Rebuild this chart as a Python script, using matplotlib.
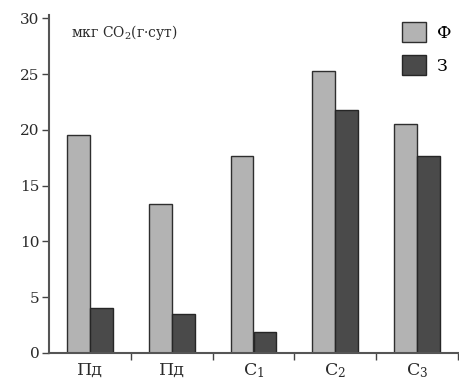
import matplotlib
matplotlib.use("Agg")
import matplotlib.pyplot as plt
import numpy as np

categories = ["Пд", "Пд", "C$_1$", "C$_2$", "C$_3$"]
series_names = ["Ф", "З"]
values_f = [19.5, 13.4, 17.7, 25.3, 20.5]
values_z = [4.0, 3.5, 1.9, 21.8, 17.7]
y_ticks = [0, 5, 10, 15, 20, 25, 30]
unit_label = "мкг CO$_2$(г·сут)"

plt.rcParams['font.family'] = ['DejaVu Serif']
plt.rcParams['mathtext.fontset'] = 'dejavuserif'
plt.rcParams['mathtext.default'] = 'regular'

fig = plt.figure(figsize=(4.6, 3.88), dpi=100)
ax = fig.add_axes([49/460, 1-353/388, (458-49)/460, (353-15)/388])

x = np.arange(len(categories))
w = 0.28
ax.bar(x - w/2, values_f, width=w, color="#b3b3b3", edgecolor="#2e2e2e", linewidth=1.0, label=series_names[0])
ax.bar(x + w/2, values_z, width=w, color="#4a4a4a", edgecolor="#262626", linewidth=1.0, label=series_names[1])

ax.set_xlim(-0.5, len(categories) - 0.5)
ax.set_ylim(0, 30.3)
ax.set_yticks(y_ticks)
ax.set_yticklabels([str(t) for t in y_ticks], fontsize=11, color="#2a2a2a")
ax.set_xticks(x)
ax.set_xticklabels(categories, fontsize=12.5, color="#2a2a2a")
ax.tick_params(axis='x', length=0, pad=6)
ax.set_xticks(x + 0.5, minor=True)
ax.tick_params(axis='x', which='minor', length=5, width=1.0, color="#444444", direction='out')
ax.tick_params(axis='y', length=5, width=1.0, color="#444444", direction='out', pad=2)

for s in ['top', 'right']:
    ax.spines[s].set_visible(False)
for s in ['left', 'bottom']:
    ax.spines[s].set_color("#555555")
    ax.spines[s].set_linewidth(1.5)

ax.text(0.055, 0.975, unit_label, transform=ax.transAxes, fontsize=10, color="#2a2a2a", va='top', ha='left')

leg = ax.legend(loc='upper right', frameon=False, fontsize=12.5, handlelength=1.4, handleheight=1.4,
                labelspacing=0.75, handletextpad=0.6, borderaxespad=0.0, bbox_to_anchor=(1.0, 1.0))

fig.savefig("out.png", dpi=100)
